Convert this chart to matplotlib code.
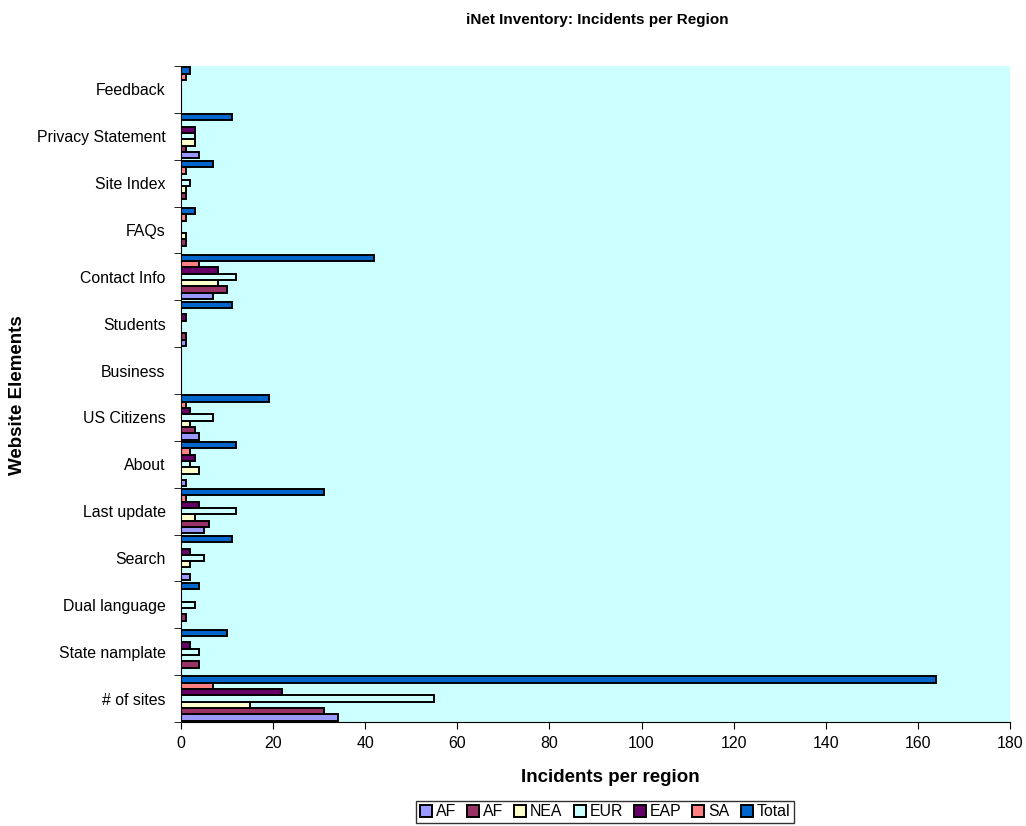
import numpy as np
import matplotlib
matplotlib.use('Agg')
import matplotlib.pyplot as plt

plt.rcParams['font.family'] = ['Liberation Sans', 'DejaVu Sans']

# categories bottom -> top
categories = ['# of sites', 'State namplate', 'Dual language', 'Search', 'Last update',
              'About', 'US Citizens', 'Business', 'Students', 'Contact Info', 'FAQs',
              'Site Index', 'Privacy Statement', 'Feedback']

series_names = ['AF', 'AF', 'NEA', 'EUR', 'EAP', 'SA', 'Total']
series_colors = ['#9999FF', '#993366', '#FFFFCC', '#CCFFFF', '#660066', '#FF8080', '#0066CC']

af1 = [34, 0, 0, 2, 5, 1, 4, 0, 1, 7, 0, 0, 4, 0]
af2 = [31, 4, 1, 0, 6, 0, 3, 0, 1, 10, 1, 1, 1, 0]
nea = [15, 0, 0, 2, 3, 4, 2, 0, 0, 8, 1, 1, 3, 0]
eur = [55, 4, 3, 5, 12, 2, 7, 0, 0, 12, 0, 2, 3, 0]
eap = [22, 2, 0, 2, 4, 3, 2, 0, 1, 8, 0, 0, 3, 0]
sa = [7, 0, 0, 0, 1, 2, 1, 0, 0, 4, 1, 1, 0, 1]
total = [164, 10, 4, 11, 31, 12, 19, 0, 11, 42, 3, 7, 11, 2]

values = [af1, af2, nea, eur, eap, sa, total]

W, H = 1026, 826
fig = plt.figure(figsize=(W / 100, H / 100), dpi=100)
ax = fig.add_axes([181 / W, 1 - 722 / H, (1010 - 181) / W, (722 - 66) / H])
ax.set_facecolor('#CCFFFF')

y = np.arange(len(categories))
h = 0.135
for i, (name, col, vals) in enumerate(zip(series_names, series_colors, values)):
    ax.barh(y + (i - 3) * h, vals, height=h, color=col, edgecolor='black',
            linewidth=1.4, label=name)

ax.set_xlim(0, 180)
ax.set_ylim(-0.5, len(categories) - 0.5)
ax.set_xticks(np.arange(0, 181, 20))
ax.set_yticks(y)
ax.set_yticklabels(categories, fontsize=11.4)
ax.set_yticks(np.arange(-0.5, len(categories), 1), minor=True)
ax.tick_params(axis='y', which='major', length=0, pad=11)
ax.tick_params(axis='y', which='minor', length=5, direction='out')
ax.tick_params(axis='x', labelsize=11.4, length=5, direction='out', pad=5)

for s in ['top', 'right']:
    ax.spines[s].set_visible(False)

# axis titles and chart title
fig.text(610 / W, 1 - 778 / H, 'Incidents per region', ha='center', va='center',
         fontsize=13.5, fontweight='bold')
fig.text(18 / W, 1 - 395 / H, 'Website Elements', ha='center', va='center',
         rotation=90, fontsize=13.5, fontweight='bold')
fig.text(597 / W, 1 - 20 / H, 'iNet Inventory: Incidents per Region', ha='center',
         va='center', fontsize=11, fontweight='bold')

leg = fig.legend(loc='center', bbox_to_anchor=(605 / W, 1 - 812 / H), ncol=7,
                 fontsize=11.4, frameon=True, fancybox=False, handlelength=0.75,
                 handleheight=0.75, handletextpad=0.25, columnspacing=0.7,
                 borderpad=0.25, borderaxespad=0)
leg.get_frame().set_edgecolor('black')
leg.get_frame().set_linewidth(1.0)

fig.savefig('out.png', dpi=100, facecolor='white')
